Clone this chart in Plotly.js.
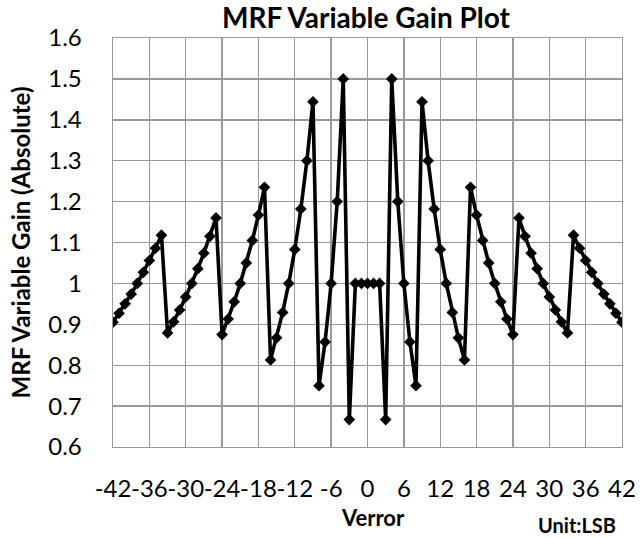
<!DOCTYPE html>
<html>
<head>
<meta charset="utf-8">
<script src="https://cdn.plot.ly/plotly-3.0.1.min.js"></script>
<style>html,body{margin:0;padding:0;background:#fff;}#chart{width:642px;height:538px;}</style>
</head>
<body>
<div id="chart"></div>
<script>
const verror = [-42,-41,-40,-39,-38,-37,-36,-35,-34,-33,-32,-31,-30,-29,-28,-27,-26,-25,-24,-23,-22,-21,-20,-19,-18,-17,-16,-15,-14,-13,-12,-11,-10,-9,-8,-7,-6,-5,-4,-3,-2,-1,0,1,2,3,4,5,6,7,8,9,10,11,12,13,14,15,16,17,18,19,20,21,22,23,24,25,26,27,28,29,30,31,32,33,34,35,36,37,38,39,40,41,42];
const gain = [0.905,0.927,0.950,0.974,1.000,1.027,1.056,1.086,1.118,0.879,0.906,0.935,0.967,1.000,1.036,1.074,1.115,1.160,0.875,0.913,0.955,1.000,1.050,1.105,1.167,1.235,0.813,0.867,0.929,1.000,1.083,1.182,1.300,1.444,0.750,0.857,1.000,1.200,1.500,0.667,1.000,1.000,1.000,1.000,1.000,0.667,1.500,1.200,1.000,0.857,0.750,1.444,1.300,1.182,1.083,1.000,0.929,0.867,0.813,1.235,1.167,1.105,1.050,1.000,0.955,0.913,0.875,1.160,1.115,1.074,1.036,1.000,0.967,0.935,0.906,0.879,1.118,1.086,1.056,1.027,1.000,0.974,0.950,0.927,0.905];
const xTicks = [-42,-36,-30,-24,-18,-12,-6,0,6,12,18,24,30,36,42];
const yTicks = [0.6,0.7,0.8,0.9,1,1.1,1.2,1.3,1.4,1.5,1.6];
const yTickText = ['0.6','0.7','0.8','0.9','1','1.1','1.2','1.3','1.4','1.5','1.6'];

const FONT = 'Lato, "Open Sans", sans-serif';
const GRID = '#999999';

const trace = {
  x: verror, y: gain, type: 'scatter', mode: 'lines+markers',
  line: {color: '#000000', width: 3.6},
  marker: {symbol: 'diamond', size: 9, color: '#000000'},
  hoverinfo: 'x+y'
};

const layout = {
  width: 642, height: 538,
  paper_bgcolor: '#ffffff', plot_bgcolor: '#ffffff',
  margin: {l: 113, r: 20, t: 38, b: 91, pad: 0},
  showlegend: false,
  font: {family: FONT, color: '#000000'},
  title: {text: '<b>MRF Variable Gain Plot</b>', font: {family: FONT, size: 28, color: '#000'},
          x: 366 / 642, xanchor: 'center', xref: 'container', y: 1 - 18/538, yanchor: 'middle', yref: 'container'},
  xaxis: {
    range: [-42, 42], tickmode: 'array', tickvals: xTicks, ticktext: xTicks.map(String),
    tickangle: 0, showgrid: true, gridcolor: GRID, gridwidth: 1.4,
    zeroline: false, showline: true, linecolor: GRID, linewidth: 1.4, mirror: true,
    ticks: 'outside', ticklen: 20, tickcolor: 'rgba(0,0,0,0)',
    tickfont: {family: FONT, size: 24, color: '#000'}
  },
  yaxis: {
    range: [0.6, 1.6], tickmode: 'array', tickvals: yTicks, ticktext: yTickText,
    showgrid: true, gridcolor: GRID, gridwidth: 1.4,
    zeroline: false, showline: true, linecolor: GRID, linewidth: 1.4, mirror: true,
    ticks: 'outside', ticklen: 25, tickcolor: 'rgba(0,0,0,0)',
    tickfont: {family: FONT, size: 24, color: '#000'},
    title: {text: '<b>MRF Variable Gain (Absolute)</b>', font: {family: FONT, size: 24, color: '#000'}, standoff: 11}
  },
  annotations: [{
    text: '<b>Verror</b>', xref: 'paper', yref: 'paper',
    x: (373 - 113) / 509, y: -(517 - 447) / 409, xanchor: 'center', yanchor: 'middle',
    showarrow: false, font: {family: FONT, size: 22, color: '#000'}
  }, {
    text: '<b>Unit:LSB</b>', xref: 'paper', yref: 'paper',
    x: (576.5 - 113) / 509, y: -(525 - 447) / 409, xanchor: 'center', yanchor: 'middle',
    showarrow: false, font: {family: FONT, size: 20, color: '#000'}
  }]
};

Plotly.newPlot('chart', [trace], layout, {displayModeBar: false, staticPlot: true});
</script>
</body>
</html>
